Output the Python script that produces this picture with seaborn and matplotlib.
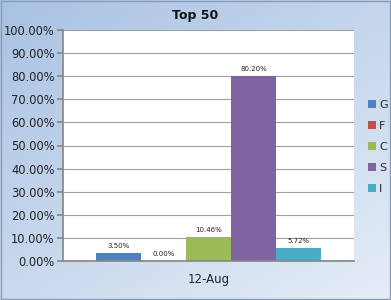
import matplotlib
matplotlib.use("Agg")
import matplotlib.pyplot as plt
import seaborn as sns
import numpy as np
import pandas as pd
from matplotlib.ticker import FuncFormatter
from matplotlib.patches import Patch

categories = ["12-Aug"]
series = ["G", "F", "C", "S", "I"]
values = [3.50, 0.00, 10.46, 80.20, 5.72]
colors = ["#4f81bd", "#c0504d", "#9bbb59", "#8064a2", "#4bacc6"]

df = pd.DataFrame({"cat": categories * len(series), "series": series, "value": values})

sns.set_theme(style="white")
plt.rcParams['font.family'] = ['DejaVu Sans']

fig = plt.figure(figsize=(3.91, 3.0), dpi=100)

# gradient background
bg = fig.add_axes([0, 0, 1, 1], zorder=-10)
yy, xx = np.mgrid[0:1:300j, 0:1:391j]
t = np.clip(0.55 * yy + 0.45 * xx, 0, 1)
c0 = np.array([0.66, 0.76, 0.89])
c1 = np.array([0.90, 0.93, 0.97])
img = c0[None, None, :] * (1 - t[..., None]) + c1[None, None, :] * t[..., None]
bg.imshow(img, aspect="auto", extent=[0, 1, 0, 1])
bg.set_xlim(0, 1); bg.set_ylim(0, 1)
bg.axis("off")
bg.add_patch(plt.Rectangle((0.002, 0.003), 0.995, 0.994, fill=False, ec="#8a9bb5", lw=1))

ax = fig.add_axes([0.161, 0.13, 0.744, 0.77])
sns.barplot(data=df, x="cat", y="value", hue="series", palette=colors,
            hue_order=series, ax=ax, width=0.775, saturation=1, legend=False,
            linewidth=0, edgecolor="none")

ax.set_ylim(0, 100)
ax.set_yticks(np.arange(0, 101, 10))
ax.yaxis.set_major_formatter(FuncFormatter(lambda v, p: f"{v:.2f}%"))
ax.grid(axis="y", color="#a0a0a0", lw=0.8)
ax.set_axisbelow(True)
ax.set_xlabel("")
ax.set_ylabel("")
for s in ["top", "right"]:
    ax.spines[s].set_visible(False)
ax.spines["left"].set_color("#888888")
ax.spines["bottom"].set_color("#888888")
ax.tick_params(axis="y", length=4, color="#888888", labelsize=8.3, labelcolor="#222222", direction="out", left=True, pad=2)
ax.tick_params(axis="x", length=0, labelsize=8.5, labelcolor="#222222", pad=9)

for cont in ax.containers:
    ax.bar_label(cont, fmt="%.2f%%", fontsize=5, padding=3, color="#222222")

fig.text(0.5, 0.948, "Top 50", ha="center", va="center", fontsize=9, fontweight="bold", color="#111111")

handles = [Patch(facecolor=c, edgecolor="none") for c in colors]
fig.legend(handles, series, loc="center left", bbox_to_anchor=(0.915, 0.51),
           frameon=False, fontsize=8, handlelength=0.7, handleheight=0.7,
           handletextpad=0.3, labelspacing=1.0)

fig.savefig("out.png", dpi=100)
